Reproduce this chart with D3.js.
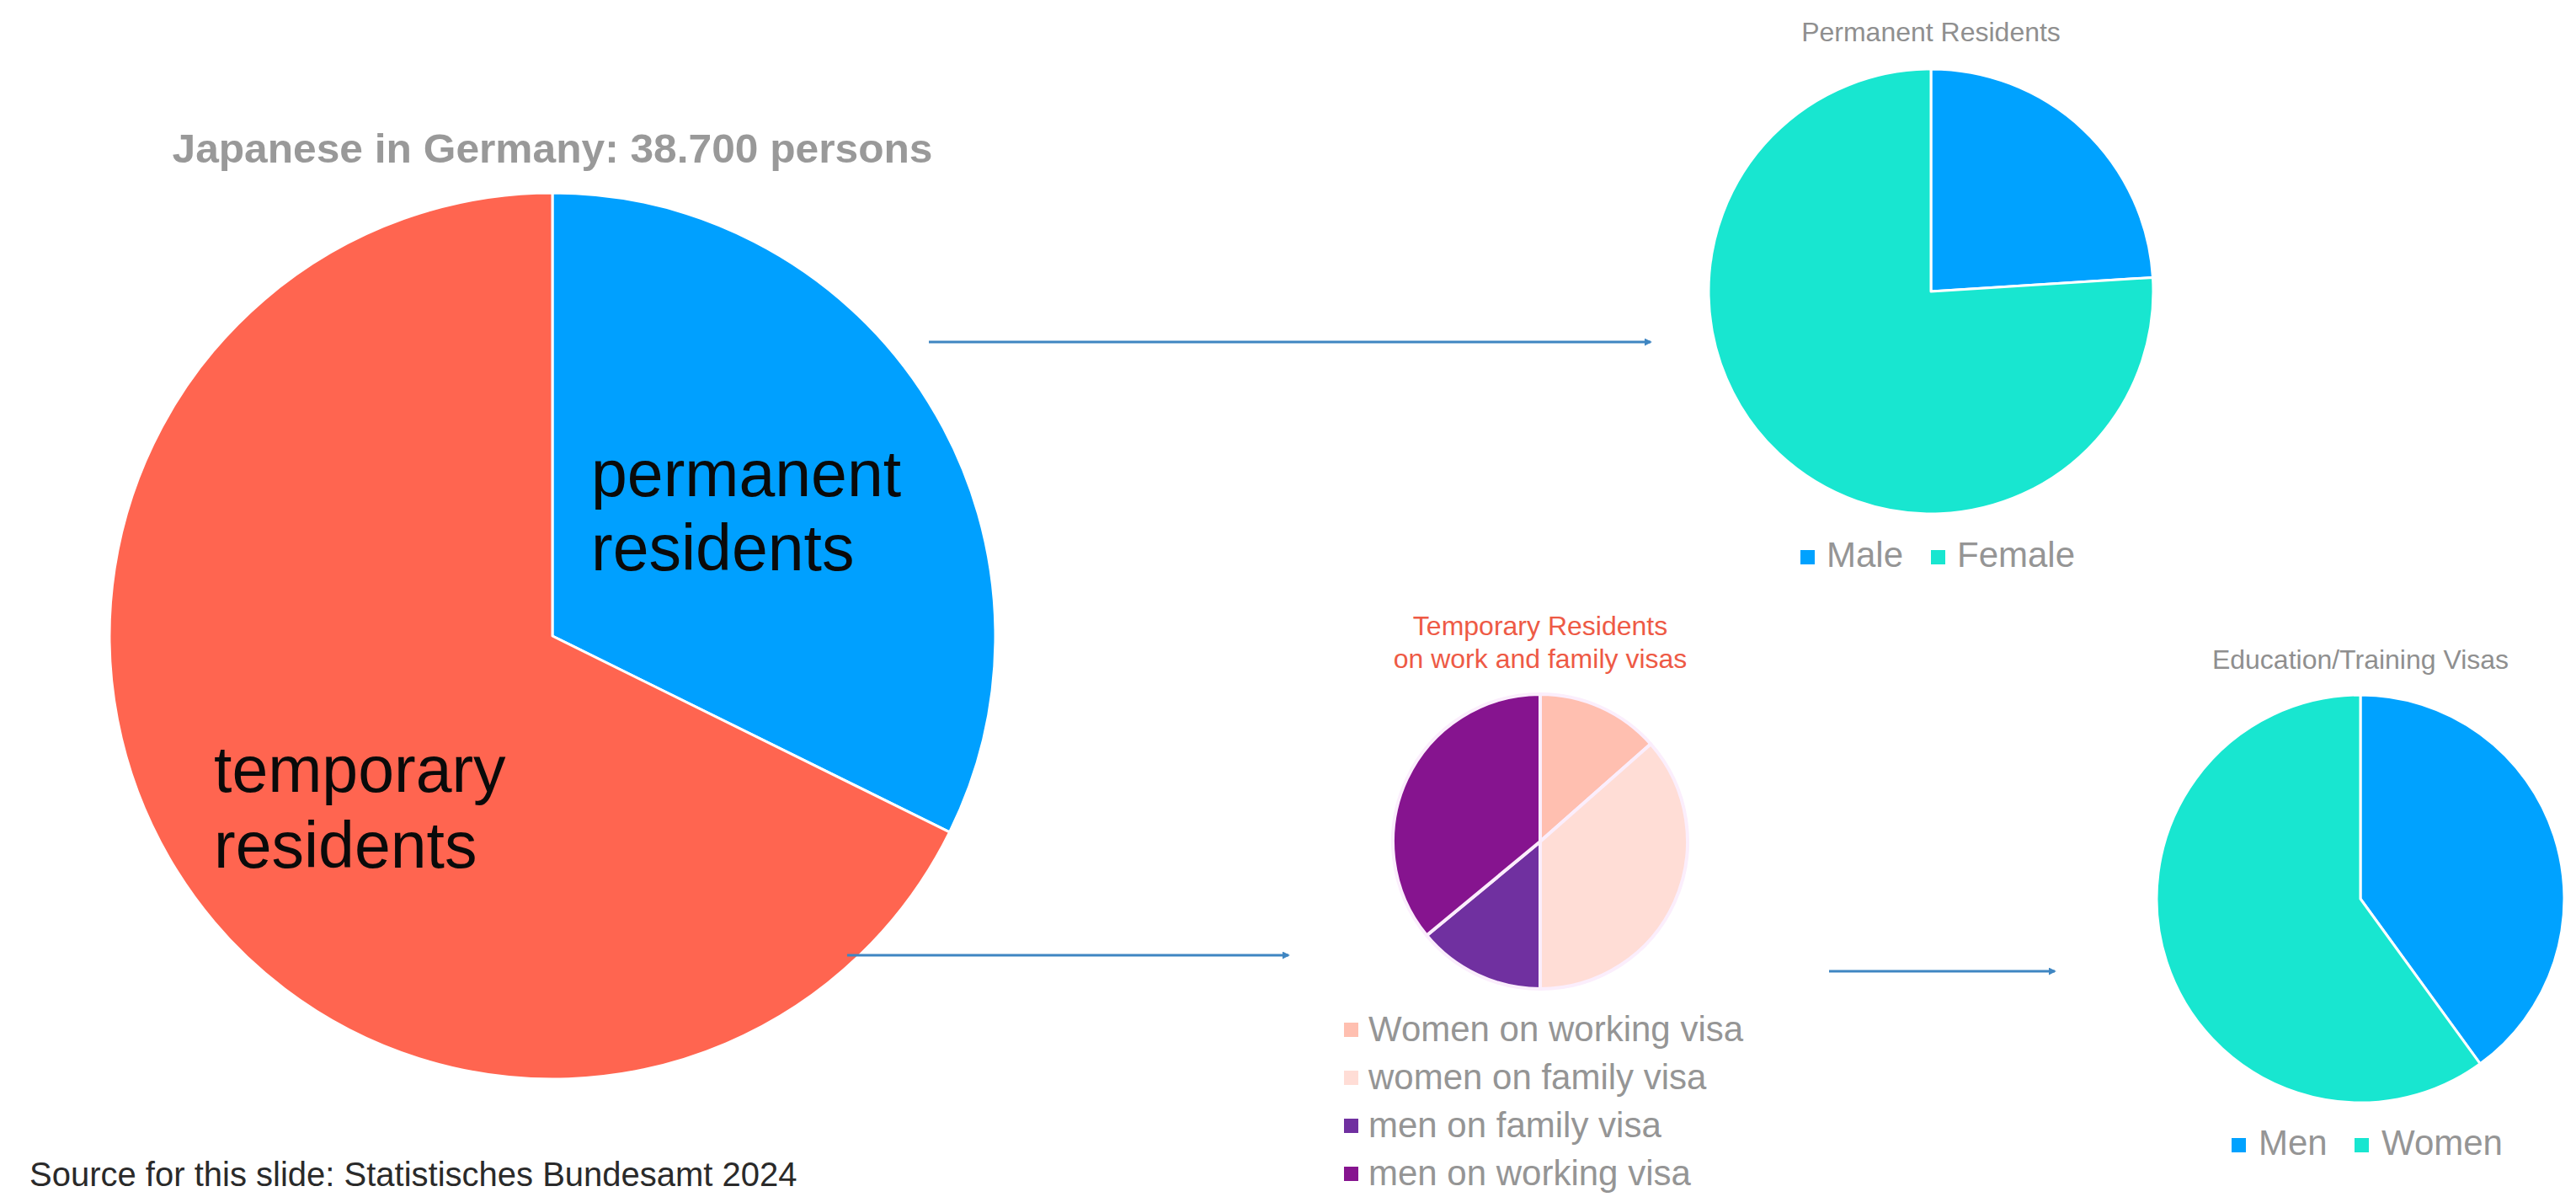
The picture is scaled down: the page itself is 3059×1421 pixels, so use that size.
<!DOCTYPE html>
<html><head><meta charset="utf-8">
<script src="https://cdn.jsdelivr.net/npm/d3@7"></script>
<style>html,body{margin:0;padding:0;background:#fff;overflow:hidden}</style>
</head><body>
<svg id="c" width="3059" height="1421"></svg>
<script>
// ---- data ----
const mainTitle = "Japanese in Germany: 38.700 persons";
const mainCategories = ["permanent residents", "temporary residents"];
const mainValues = [12500, 26200];

const permTitle = "Permanent Residents";
const permCategories = ["Male", "Female"];
const permValues = [24, 76];

const tempTitle = ["Temporary Residents", "on work and family visas"];
const tempCategories = ["Women on working visa", "women on family visa", "men on family visa", "men on working visa"];
const tempValues = [13.5, 36.5, 14, 36];

const eduTitle = "Education/Training Visas";
const eduCategories = ["Men", "Women"];
const eduValues = [40, 60];

const sourceText = "Source for this slide: Statistisches Bundesamt 2024";

// ---- styles ----
const FONT = "'Liberation Sans', Arial, sans-serif";
const mainColors = ["#00A0FF", "#FF6550"];
const genderColors = ["#00A2FF", "#18E6D0"];
const tempColors = ["#FFBFB0", "#FFDDD6", "#7030A0", "#86148F"];

const svg = d3.select("#c");

function drawPie(cx, cy, r, values, colors, strokeColor, strokeW) {
  const pie = d3.pie().sort(null).value(d => d);
  const arc = d3.arc().innerRadius(0).outerRadius(r);
  const g = svg.append("g").attr("transform", `translate(${cx},${cy})`);
  g.selectAll("path").data(pie(values)).join("path")
    .attr("d", arc)
    .attr("fill", (d, i) => colors[i])
    .attr("stroke", strokeColor)
    .attr("stroke-width", strokeW)
    .attr("stroke-linejoin", "round");
  return g;
}

// main pie
drawPie(656, 755, 526, mainValues, mainColors, "#ffffff", 3);
svg.append("text").attr("x", 656).attr("y", 193)
  .attr("text-anchor", "middle").attr("font-family", FONT).attr("font-weight", "bold")
  .attr("font-size", 48).attr("fill", "#999999")
  .attr("textLength", 903).attr("lengthAdjust", "spacingAndGlyphs")
  .text(mainTitle);

const mainLabelPos = [{x: 702, y: [589, 677]}, {x: 254, y: [940, 1030]}];
mainCategories.forEach((c, i) => {
  const words = c.split(" ");
  words.forEach((w, j) => {
    svg.append("text").attr("x", mainLabelPos[i].x).attr("y", mainLabelPos[i].y[j])
      .attr("font-family", FONT).attr("font-size", 77).attr("fill", "#0a0a0a").text(w);
  });
});

// permanent pie
drawPie(2293, 346, 264, permValues, genderColors, "#ffffff", 3);
svg.append("text").attr("x", 2293).attr("y", 49).attr("text-anchor", "middle")
  .attr("font-family", FONT).attr("font-size", 32).attr("fill", "#8f8f8f").text(permTitle);
const permLegendX = [2138, 2293];
permCategories.forEach((c, i) => {
  svg.append("rect").attr("x", permLegendX[i]).attr("y", 653).attr("width", 17).attr("height", 17).attr("fill", genderColors[i]);
  svg.append("text").attr("x", permLegendX[i] + 31).attr("y", 673)
    .attr("font-family", FONT).attr("font-size", 42).attr("fill", "#959595").text(c);
});

// temporary pie
drawPie(1829, 999, 175, tempValues, tempColors, "#fbeefc", 4);
tempTitle.forEach((t, i) => {
  svg.append("text").attr("x", 1829).attr("y", 754 + i * 39).attr("text-anchor", "middle")
    .attr("font-family", FONT).attr("font-size", 32).attr("fill", "#EE5A45").text(t);
});
tempCategories.forEach((c, i) => {
  const base = 1236 + i * 57;
  svg.append("rect").attr("x", 1596).attr("y", base - 22).attr("width", 17).attr("height", 17).attr("fill", tempColors[i]);
  svg.append("text").attr("x", 1625).attr("y", base)
    .attr("font-family", FONT).attr("font-size", 42).attr("fill", "#959595").text(c);
});

// education pie
drawPie(2803, 1067, 242, eduValues, genderColors, "#ffffff", 3);
svg.append("text").attr("x", 2803).attr("y", 794).attr("text-anchor", "middle")
  .attr("font-family", FONT).attr("font-size", 32).attr("fill", "#8f8f8f").text(eduTitle);
const eduLegendX = [2650, 2796];
eduCategories.forEach((c, i) => {
  svg.append("rect").attr("x", eduLegendX[i]).attr("y", 1351).attr("width", 17).attr("height", 17).attr("fill", genderColors[i]);
  svg.append("text").attr("x", eduLegendX[i] + 32).attr("y", 1371)
    .attr("font-family", FONT).attr("font-size", 42).attr("fill", "#959595").text(c);
});

// arrows
svg.append("defs").append("marker").attr("id", "arr")
  .attr("viewBox", "0 0 10 10").attr("refX", 8).attr("refY", 5)
  .attr("markerWidth", 3).attr("markerHeight", 3).attr("orient", "auto")
  .append("path").attr("d", "M0,0 L10,5 L0,10 z").attr("fill", "#3F86C2");
const arrows = [[1103, 406, 1960, 406], [1006, 1134, 1530, 1134], [2172, 1153, 2440, 1153]];
arrows.forEach(a => {
  svg.append("line").attr("x1", a[0]).attr("y1", a[1]).attr("x2", a[2]).attr("y2", a[3])
    .attr("stroke", "#3F86C2").attr("stroke-width", 3).attr("marker-end", "url(#arr)");
});

// source (kept fully inside the frame)
svg.append("text").attr("x", 35).attr("y", 1408)
  .attr("font-family", FONT).attr("font-size", 40).attr("fill", "#2a2a2a").text(sourceText);
</script>
</body></html>
